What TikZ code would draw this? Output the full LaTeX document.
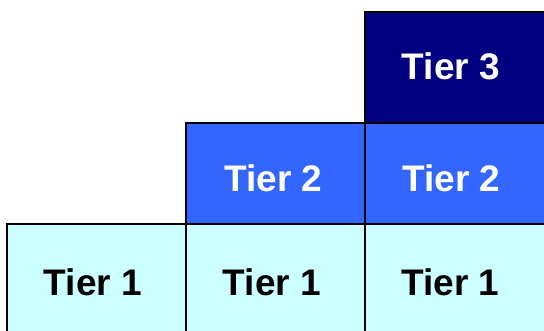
\documentclass[tikz,border=0pt]{standalone}
\usepackage{fontspec}
\setmainfont{Liberation Sans}
\definecolor{tierthree}{HTML}{000080}
\definecolor{tiertwo}{HTML}{3366FF}
\definecolor{tierone}{HTML}{CCFFFF}
\tikzset{
  cellbox/.style={draw=black, line width=2pt},
  lbl/.style={font=\fontsize{37}{40}\selectfont\bfseries, inner sep=0pt, anchor=base},
}
\begin{document}
\begin{tikzpicture}[x=1pt, y=-1pt]
\useasboundingbox (0,0) rectangle (544,331);
\clip (0,0) rectangle (544,331);
% bottom row
\draw[cellbox, fill=tierone] (7,224) rectangle (186,345);
\draw[cellbox, fill=tierone] (186,224) rectangle (365,345);
\draw[cellbox, fill=tierone] (365,224) rectangle (550,345);
% middle row
\draw[cellbox, fill=tiertwo] (186,123) rectangle (365,224);
\draw[cellbox, fill=tiertwo] (365,123) rectangle (550,224);
% top row
\draw[cellbox, fill=tierthree] (365,12) rectangle (550,123);
% labels
\node[lbl, text=black] (t1a) at (93,296) {Tier 1};
\node[lbl, text=black] (t1b) at (272,296) {Tier 1};
\node[lbl, text=black] (t1c) at (450.5,296) {Tier 1};
\node[lbl, text=white] (t2a) at (273.5,192) {Tier 2};
\node[lbl, text=white] (t2b) at (451.5,192) {Tier 2};
\node[lbl, text=white] (t3) at (451,80) {Tier 3};
\end{tikzpicture}
\end{document}
